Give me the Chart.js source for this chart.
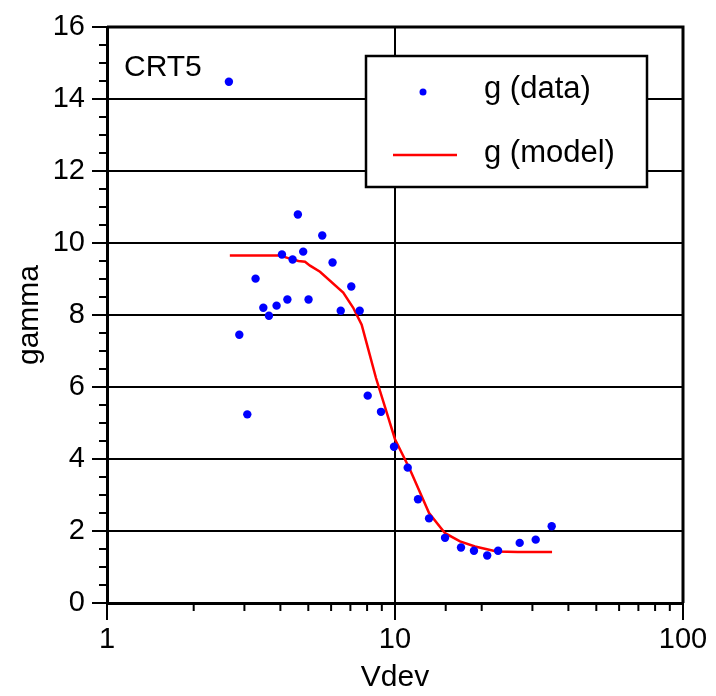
<!DOCTYPE html>
<html>
<head>
<meta charset="utf-8">
<script src="https://cdn.jsdelivr.net/npm/chart.js@4.4.0/dist/chart.umd.min.js"></script>
<style>
  html, body { margin: 0; padding: 0; background: #fff; }
  #wrap { width: 716px; height: 696px; }
</style>
</head>
<body>
<div id="wrap"><canvas id="myChart"></canvas></div>
<script>
// measured values (Vdev, gamma)
const vdevData = [2.65, 2.88, 3.07, 3.28, 3.49, 3.65, 3.88, 4.05, 4.23, 4.41, 4.60, 4.80, 5.01, 5.59, 6.07, 6.48,
  7.05, 7.54, 8.04, 8.94, 9.92, 11.07, 12.02, 13.13, 14.92, 16.95, 18.8, 20.9, 22.8, 27.1, 30.8, 35.0];
const gammaData = [14.48, 7.45, 5.24, 9.01, 8.20, 7.98, 8.26, 9.68, 8.43, 9.54, 10.79, 9.76, 8.43, 10.21, 9.46, 8.12,
  8.79, 8.12, 5.76, 5.31, 4.34, 3.76, 2.88, 2.35, 1.81, 1.54, 1.45, 1.32, 1.45, 1.67, 1.76, 2.13];
// model curve
const vdevModel = [2.67, 3.99, 4.26, 4.62, 4.87, 5.07, 5.49, 6.61, 7.16, 7.66, 7.97, 8.59, 10, 11.28, 13.13, 14.92,
  16.82, 18.96, 22.55, 26.7, 35.1];
const gammaModel = [9.65, 9.65, 9.58, 9.50, 9.48, 9.37, 9.20, 8.62, 8.20, 7.73, 7.22, 6.25, 4.55, 3.70, 2.50, 1.94,
  1.71, 1.57, 1.43, 1.42, 1.42];
const xTickLabels = [1, 10, 100];
const yTickLabels = [0, 2, 4, 6, 8, 10, 12, 14, 16];

const font = "'Liberation Sans', Arial, sans-serif";

const frame = {
  id: "frame",
  afterDraw(chart) {
    const { ctx, chartArea: a, scales: { x, y } } = chart;
    ctx.save();
    ctx.strokeStyle = "#000";
    ctx.lineWidth = 2;
    x.ticks.forEach(t => {
      const px = x.getPixelForValue(t.value);
      const len = xTickLabels.includes(t.value) ? 17 : 8;
      ctx.beginPath(); ctx.moveTo(px, a.bottom); ctx.lineTo(px, a.bottom + len); ctx.stroke();
    });
    y.ticks.forEach(t => {
      const py = y.getPixelForValue(t.value);
      const len = yTickLabels.includes(t.value) ? 15 : 8;
      ctx.beginPath(); ctx.moveTo(a.left, py); ctx.lineTo(a.left - len, py); ctx.stroke();
    });
    // top / right frame
    ctx.lineWidth = 3;
    ctx.beginPath(); ctx.moveTo(a.left, a.top); ctx.lineTo(a.right, a.top); ctx.lineTo(a.right, a.bottom); ctx.stroke();

    // label in the corner
    ctx.fillStyle = "#000";
    ctx.font = "30px " + font;
    ctx.textBaseline = "alphabetic";
    ctx.fillText("CRT5", 124, 76);

    // legend box
    ctx.fillStyle = "#fff";
    ctx.fillRect(366, 56, 281, 131);
    ctx.lineWidth = 2.5;
    ctx.strokeRect(366, 56, 281, 131);
    const ds = chart.data.datasets;
    ctx.fillStyle = "#0000ff";
    ctx.beginPath(); ctx.arc(423, 92, 3.5, 0, Math.PI * 2); ctx.fill();
    ctx.strokeStyle = "#ff0000";
    ctx.beginPath(); ctx.moveTo(393, 155); ctx.lineTo(457, 155); ctx.stroke();
    ctx.fillStyle = "#000";
    ctx.font = "31px " + font;
    ctx.fillText(ds[0].label, 484, 98);
    ctx.fillText(ds[1].label, 484, 162);
    ctx.restore();
  }
};

new Chart(document.getElementById("myChart"), {
  type: "scatter",
  data: {
    datasets: [
      {
        label: "g (data)",
        data: vdevData.map((v, i) => ({ x: v, y: gammaData[i] })),
        backgroundColor: "#0000ff",
        borderWidth: 0,
        pointRadius: 4.2,
        showLine: false
      },
      {
        label: "g (model)",
        data: vdevModel.map((v, i) => ({ x: v, y: gammaModel[i] })),
        borderColor: "#ff0000",
        borderWidth: 2.5,
        pointRadius: 0,
        showLine: true,
        tension: 0
      }
    ]
  },
  options: {
    responsive: true,
    maintainAspectRatio: false,
    animation: false,
    layout: { padding: { top: 27, right: 33, left: 0, bottom: 0 } },
    plugins: { legend: { display: false }, tooltip: { enabled: false } },
    scales: {
      x: {
        type: "logarithmic",
        min: 1, max: 100,
        afterFit: s => { s.height = 93; s.paddingLeft = 0; s.paddingRight = 0; },
        border: { color: "#000", width: 3 },
        grid: {
          drawTicks: false,
          lineWidth: 2,
          color: c => (c.tick && xTickLabels.includes(c.tick.value)) ? "#000" : "rgba(0,0,0,0)"
        },
        ticks: {
          autoSkip: false, maxRotation: 0, padding: 20,
          color: "#000", font: { family: font, size: 29 },
          callback: v => xTickLabels.includes(v) ? String(v) : ""
        },
        title: { display: true, text: "Vdev", color: "#000", font: { family: font, size: 30 }, padding: { top: 0, bottom: 0 } }
      },
      y: {
        min: 0, max: 16,
        afterFit: s => { s.width = 107; s.paddingTop = 0; s.paddingBottom = 0; },
        border: { color: "#000", width: 3 },
        grid: {
          drawTicks: false,
          lineWidth: 2,
          color: c => (c.tick && yTickLabels.includes(c.tick.value)) ? "#000" : "rgba(0,0,0,0)"
        },
        ticks: {
          stepSize: 0.5, autoSkip: false, padding: 22,
          color: "#000", font: { family: font, size: 29 },
          callback: v => yTickLabels.includes(v) ? String(v) : ""
        },
        title: { display: true, text: "gamma", color: "#000", font: { family: font, size: 30 }, padding: { top: 12, bottom: 0 } }
      }
    }
  },
  plugins: [frame]
});
</script>
</body>
</html>
